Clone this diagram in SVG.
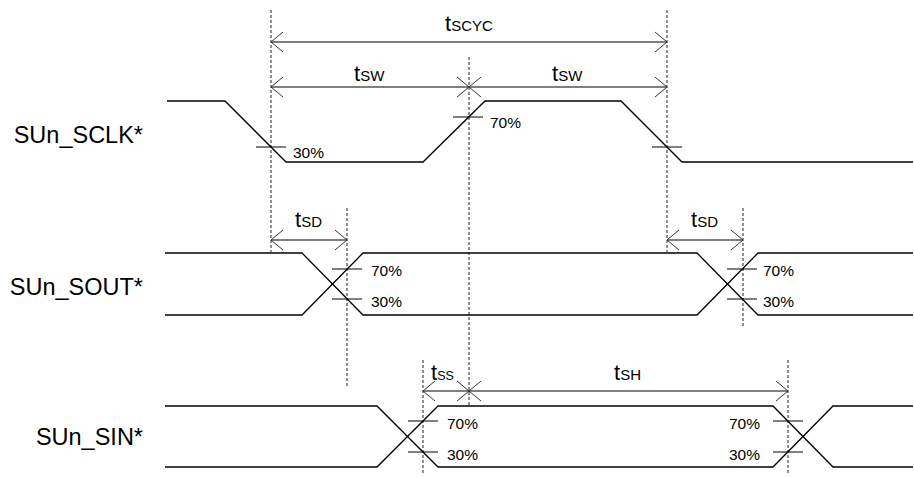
<svg xmlns="http://www.w3.org/2000/svg" width="914" height="477" viewBox="0 0 914 477">
<style>
.sig{fill:none;stroke:#000;stroke-width:1.3}
.tick{fill:none;stroke:#000;stroke-width:1}
.dash{fill:none;stroke:#222;stroke-width:1;stroke-dasharray:3,2}
.dim{fill:none;stroke:#555;stroke-width:1.3}
.head{fill:none;stroke:#333;stroke-width:1}
.lbl{font-family:"Liberation Sans",Arial,sans-serif;font-size:23.5px;fill:#000;text-anchor:end}
.pct{font-family:"Liberation Sans",Arial,sans-serif;font-size:15.5px;fill:#000}
.t{font-family:"Liberation Sans",Arial,sans-serif;font-size:22px;fill:#000}
.sub{font-size:15px}
</style>
<rect width="914" height="477" fill="#fff"/>

<g id="guides">
<line class="dash" x1="271" y1="10" x2="271" y2="252"/>
<line class="dash" x1="667" y1="10" x2="667" y2="252"/>
<line class="dash" x1="469" y1="57" x2="469" y2="405"/>
<line class="dash" x1="347" y1="208" x2="347" y2="388"/>
<line class="dash" x1="743" y1="208" x2="743" y2="327"/>
<line class="dash" x1="423" y1="360" x2="423" y2="475"/>
<line class="dash" x1="788" y1="360" x2="788" y2="475"/>
</g>

<g id="sclk">
<text class="lbl" x="143" y="143">SUn_SCLK*</text>
<polyline class="sig" points="167,101 225,101 286,162 423,162 485,101 621,101 682,162 913,162"/>
<line class="tick" x1="256" y1="147" x2="286" y2="147"/>
<text class="pct" x="293" y="158">30%</text>
<line class="tick" x1="453" y1="117" x2="483" y2="117"/>
<text class="pct" x="490" y="128">70%</text>
<line class="tick" x1="652" y1="147" x2="682" y2="147"/>
</g>

<g id="sout">
<text class="lbl" x="143" y="295">SUn_SOUT*</text>
<polyline class="sig" points="165,253 302,253 363,315 697,315 758,253 913,253"/>
<polyline class="sig" points="165,315 302,315 363,253 697,253 758,315 913,315"/>
<line class="tick" x1="332" y1="269" x2="362" y2="269"/>
<line class="tick" x1="332" y1="299" x2="362" y2="299"/>
<text class="pct" x="371" y="276">70%</text>
<text class="pct" x="371" y="307">30%</text>
<line class="tick" x1="727" y1="269" x2="757" y2="269"/>
<line class="tick" x1="727" y1="299" x2="757" y2="299"/>
<text class="pct" x="763" y="276">70%</text>
<text class="pct" x="763" y="307">30%</text>
</g>

<g id="sin">
<text class="lbl" x="143" y="445">SUn_SIN*</text>
<polyline class="sig" points="165,406 377,406 438,467 773,467 833,406 913,406"/>
<polyline class="sig" points="165,467 377,467 438,406 773,406 833,467 913,467"/>
<line class="tick" x1="408" y1="421" x2="438" y2="421"/>
<line class="tick" x1="408" y1="452" x2="438" y2="452"/>
<text class="pct" x="447" y="429">70%</text>
<text class="pct" x="447" y="460">30%</text>
<line class="tick" x1="773" y1="421" x2="803" y2="421"/>
<line class="tick" x1="773" y1="452" x2="803" y2="452"/>
<text class="pct" x="760" y="429" text-anchor="end">70%</text>
<text class="pct" x="760" y="460" text-anchor="end">30%</text>
</g>

<g id="connectors">
<line class="dim" x1="271" y1="42" x2="667" y2="42"/>
<polyline class="head" points="283,32 271,42 283,52"/>
<polyline class="head" points="655,32 667,42 655,52"/>
<line class="dim" x1="271" y1="87" x2="667" y2="87"/>
<polyline class="head" points="283,77 271,87 283,97"/>
<polyline class="head" points="457,77 469,87 457,97"/>
<polyline class="head" points="481,77 469,87 481,97"/>
<polyline class="head" points="655,77 667,87 655,97"/>
<line class="dim" x1="271" y1="240" x2="347" y2="240"/>
<polyline class="head" points="283,230 271,240 283,250"/>
<polyline class="head" points="335,230 347,240 335,250"/>
<line class="dim" x1="667" y1="240" x2="743" y2="240"/>
<polyline class="head" points="679,230 667,240 679,250"/>
<polyline class="head" points="731,230 743,240 731,250"/>
<line class="dim" x1="423" y1="391" x2="788" y2="391"/>
<polyline class="head" points="435,381 423,391 435,401"/>
<polyline class="head" points="457,381 469,391 457,401"/>
<polyline class="head" points="481,381 469,391 481,401"/>
<polyline class="head" points="776,381 788,391 776,401"/>
</g>

<g id="timing-labels">
<text class="t" x="445" y="31">t<tspan class="sub">SCYC</tspan></text>
<text class="t" x="354" y="81">t<tspan class="sub">SW</tspan></text>
<text class="t" x="552" y="81">t<tspan class="sub">SW</tspan></text>
<text class="t" x="295" y="227">t<tspan class="sub">SD</tspan></text>
<text class="t" x="691" y="227">t<tspan class="sub">SD</tspan></text>
<text class="t" x="431" y="380">t<tspan style="font-size:12.5px">SS</tspan></text>
<text class="t" x="614" y="380">t<tspan class="sub">SH</tspan></text>
</g>
</svg>
